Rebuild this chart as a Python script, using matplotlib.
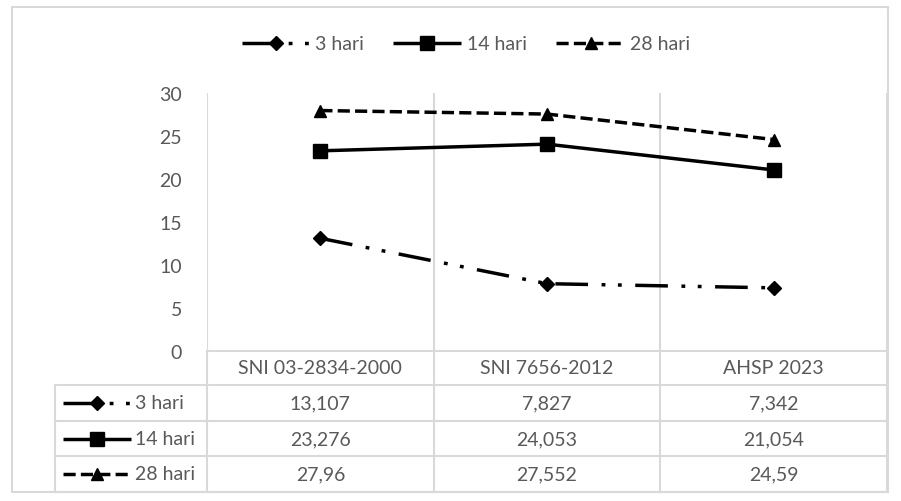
import matplotlib
matplotlib.use('Agg')
import matplotlib.pyplot as plt
from matplotlib.lines import Line2D
import numpy as np

plt.rcParams['font.family'] = ['Lato', 'DejaVu Sans']

categories = ['SNI 03-2834-2000', 'SNI 7656-2012', 'AHSP 2023']
series_names = ['3 hari', '14 hari', '28 hari']
hari_3 = [13.107, 7.827, 7.342]
hari_14 = [23.276, 24.053, 21.054]
hari_28 = [27.96, 27.552, 24.59]
yticks = [0, 5, 10, 15, 20, 25, 30]

TEXT = '#595959'
GRID = '#D9D9D9'
W, H = 901, 502
FS = 14

styles = [
    dict(marker='D', markersize=7.5, dashes=(9.4, 3.9, 1.1, 3.6, 1.1, 3.9)),
    dict(marker='s', markersize=9.5, dashes=None),
    dict(marker='^', markersize=9, dashes=(3.5, 1.5)),
]
series = [hari_3, hari_14, hari_28]


def fx(px):
    return px / W


def fy(py):
    return 1 - py / H


def line_kw(st):
    kw = dict(color='black', lw=2.5, marker=st['marker'],
              markersize=st['markersize'], markerfacecolor='black',
              markeredgecolor='black', solid_capstyle='butt',
              dash_capstyle='butt')
    if st['dashes'] is not None:
        kw['dashes'] = st['dashes']
    return kw


fig = plt.figure(figsize=(W / 100, H / 100), dpi=100)

# overlay in pixel coordinates for the frame and table
bg = fig.add_axes([0, 0, 1, 1])
bg.set_xlim(0, W)
bg.set_ylim(H, 0)
bg.axis('off')

left, right, top, bottom = 207, 887, 94, 352
ax = fig.add_axes([fx(left), fy(bottom), fx(right - left), (bottom - top) / H])
x = np.arange(len(categories))
for vals, st, name in zip(series, styles, series_names):
    ax.plot(x, vals, label=name, **line_kw(st))
ax.set_xlim(-0.5, len(categories) - 0.5)
ax.set_ylim(0, 30)
ax.set_yticks(yticks)
ax.set_yticklabels([str(t) for t in yticks], color=TEXT, fontsize=FS)
ax.tick_params(axis='y', length=0, pad=18)
ax.set_xticks([])
ax.set_xticks(np.arange(len(categories) + 1) - 0.5, minor=True)
ax.tick_params(axis='x', which='minor', length=0)
ax.grid(True, axis='x', which='minor', color=GRID, lw=1.5)
for s in ['top', 'right', 'left']:
    ax.spines[s].set_visible(False)
ax.spines['bottom'].set_color(GRID)
ax.spines['bottom'].set_linewidth(1.5)
ax.set_facecolor('none')

# legend
handles = [Line2D([], [], **line_kw(st)) for st in styles]
fig.legend(handles, series_names, loc='center', ncol=3,
           bbox_to_anchor=(fx(466), fy(45)), frameon=False, fontsize=FS,
           labelcolor=TEXT, handlelength=3.5, columnspacing=1.5,
           handletextpad=0.3)

# outer frame
bg.add_patch(plt.Rectangle((12, 8), 876, 485, fill=False, ec=GRID, lw=1.5))

# data table
tleft = 55
col_w = (right - left) / len(categories)
row_h = [34, 36, 35, 36]
row_y = np.concatenate([[bottom], bottom + np.cumsum(row_h)])
tbottom = row_y[-1]
for j, cat in enumerate(categories):
    cx = left + col_w * (j + 0.5)
    bg.text(cx, (row_y[0] + row_y[1]) / 2, cat, ha='center', va='center',
            color=TEXT, fontsize=FS)
for i in range(1, len(row_y)):
    bg.plot([tleft, right], [row_y[i], row_y[i]], color=GRID, lw=1.5)
bg.plot([tleft, tleft], [row_y[1], tbottom], color=GRID, lw=1.5)
for j in range(len(categories) + 1):
    xx = left + col_w * j
    bg.plot([xx, xx], [bottom, tbottom], color=GRID, lw=1.5)

for i, (vals, st, name) in enumerate(zip(series, styles, series_names)):
    cy = (row_y[i + 1] + row_y[i + 2]) / 2
    bg.add_line(Line2D([63, 97, 131], [cy, cy, cy], markevery=[1],
                       **line_kw(st)))
    bg.text(135, cy, name, ha='left', va='center', color=TEXT, fontsize=FS)
    for j, v in enumerate(vals):
        cx = left + col_w * (j + 0.5)
        bg.text(cx, cy, f'{v:g}'.replace('.', ','), ha='center',
                va='center', color=TEXT, fontsize=FS)

fig.savefig('out.png', dpi=100, facecolor='white')
